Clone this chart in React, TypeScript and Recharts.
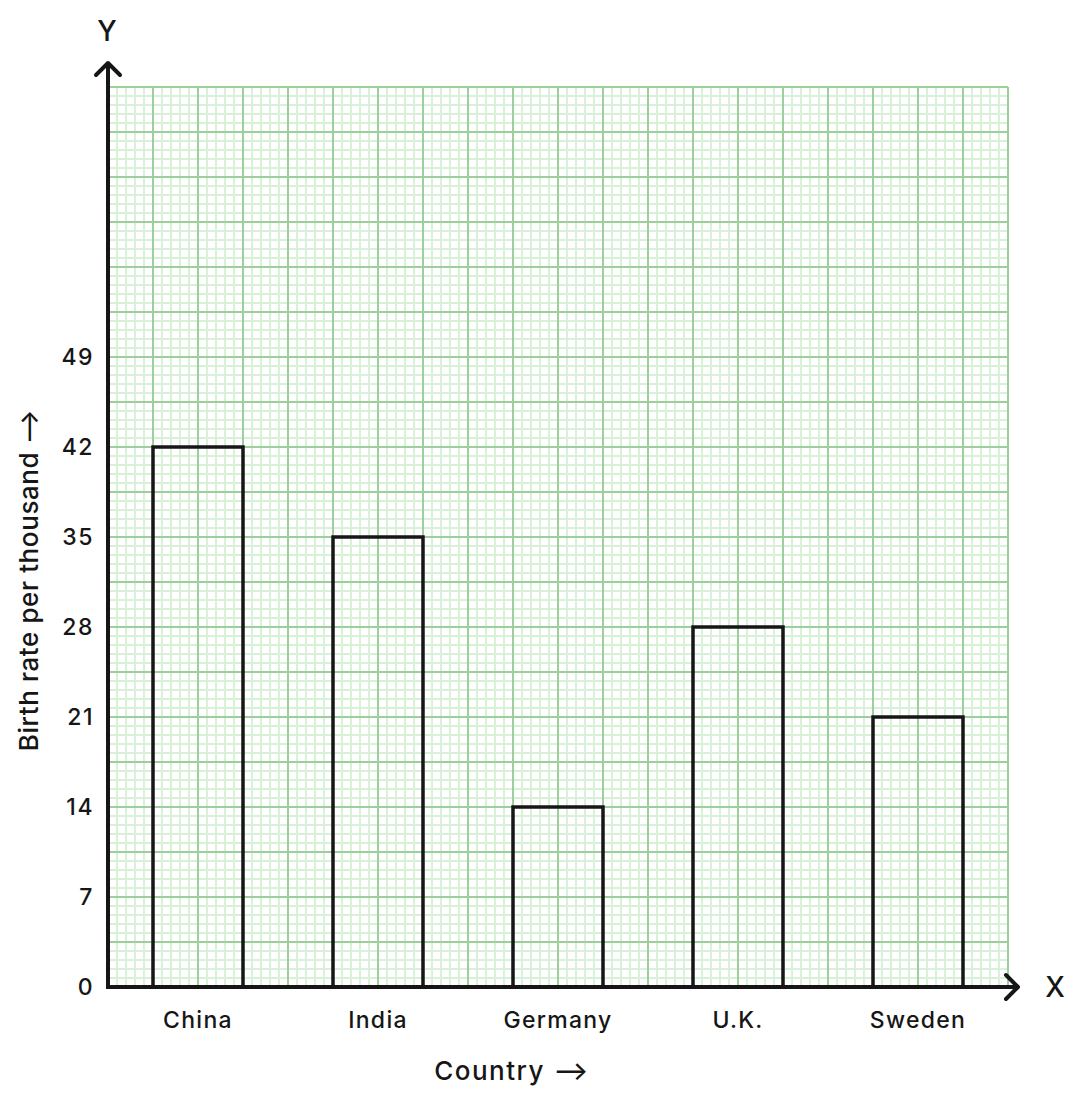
import { BarChart, Bar, XAxis, YAxis, CartesianGrid, usePlotArea } from 'recharts';

const countries = ['China', 'India', 'Germany', 'U.K.', 'Sweden'];
const birthRates = [42, 35, 14, 28, 21];
const yTicks = [0, 7, 14, 21, 28, 35, 42, 49];

const data = countries.map((country, i) => ({ country, rate: birthRates[i] }));

const FONT = 'Inter, "Noto Sans", sans-serif';
const INK = '#161616';

// graph-paper lines: every 9px minor, every 45px major
function gridPoints(start: number, size: number, step: number) {
  const pts: number[] = [];
  for (let p = 0; p <= size + 0.5; p += step) pts.push(start + p);
  return pts;
}

function AxesAndLabels() {
  const area = usePlotArea();
  if (!area) return null;
  const { x, y, width, height } = area;
  const bottom = y + height;
  const right = x + width;
  return (
    <g>
      {/* y axis with arrow */}
      <line x1={x} y1={bottom + 2} x2={x} y2={y - 24} stroke={INK} strokeWidth={4} />
      <polyline
        points={`${x - 12},${y - 12} ${x},${y - 24} ${x + 12},${y - 12}`}
        fill="none" stroke={INK} strokeWidth={4} strokeLinecap="round" strokeLinejoin="round"
      />
      {/* x axis with arrow */}
      <line x1={x - 2} y1={bottom} x2={right + 10} y2={bottom} stroke={INK} strokeWidth={4} />
      <polyline
        points={`${right - 2},${bottom - 12} ${right + 10},${bottom} ${right - 2},${bottom + 12}`}
        fill="none" stroke={INK} strokeWidth={4} strokeLinecap="round" strokeLinejoin="round"
      />
      <text x={x - 1} y={y - 46} textAnchor="middle" fontSize={28} fontWeight={500} fontFamily={FONT} fill={INK}>Y</text>
      <text x={right + 47} y={bottom + 10} textAnchor="middle" fontSize={28} fontWeight={500} fontFamily={FONT} fill={INK}>X</text>
      <text
        x={512} y={bottom + 93} textAnchor="middle" fontSize={26} fontWeight={500} letterSpacing={1.5}
        fontFamily={FONT} fill={INK}
      >
        Country ⟶
      </text>
      <text
        x={38} y={580} textAnchor="middle" fontSize={26} fontWeight={500} letterSpacing={0.6}
        fontFamily={FONT} fill={INK}
        transform="rotate(-90 38 580)"
      >
        Birth rate per thousand ⟶
      </text>
    </g>
  );
}

export default function App() {
  return (
    <div style={{ position: 'absolute', left: 0, top: 0, background: '#fff' }}>
      <BarChart
        width={1081}
        height={1095}
        data={data}
        margin={{ top: 87, right: 73, bottom: 0, left: 0 }}
        barSize={90}
      >
        <CartesianGrid
          stroke="#d9f0d9"
          strokeWidth={2}
          horizontalCoordinatesGenerator={({ offset }: any) => gridPoints(offset.top, offset.height, 9)}
          verticalCoordinatesGenerator={({ offset }: any) => gridPoints(offset.left, offset.width, 9)}
        />
        <CartesianGrid
          stroke="#9ccf9c"
          strokeWidth={2}
          horizontalCoordinatesGenerator={({ offset }: any) => gridPoints(offset.top, offset.height, 45)}
          verticalCoordinatesGenerator={({ offset }: any) => gridPoints(offset.left, offset.width, 45)}
        />
        <XAxis
          dataKey="country"
          height={108}
          axisLine={false}
          tickLine={false}
          tickSize={0}
          tickMargin={25}
          tick={{ fill: INK, fontSize: 23, fontWeight: 500, fontFamily: FONT, letterSpacing: 1.3 }}
          interval={0}
        />
        <YAxis
          type="number"
          domain={[0, 70]}
          ticks={yTicks}
          axisLine={false}
          tickLine={false}
          tickSize={0}
          tickMargin={14}
          width={108}
          tick={{ fill: INK, fontSize: 23, fontWeight: 500, fontFamily: FONT, letterSpacing: 1.5 }}
        />
        <Bar
          dataKey="rate"
          fill="none"
          stroke={INK}
          strokeWidth={3.5}
          isAnimationActive={false}
        />
        <AxesAndLabels />
      </BarChart>
    </div>
  );
}
